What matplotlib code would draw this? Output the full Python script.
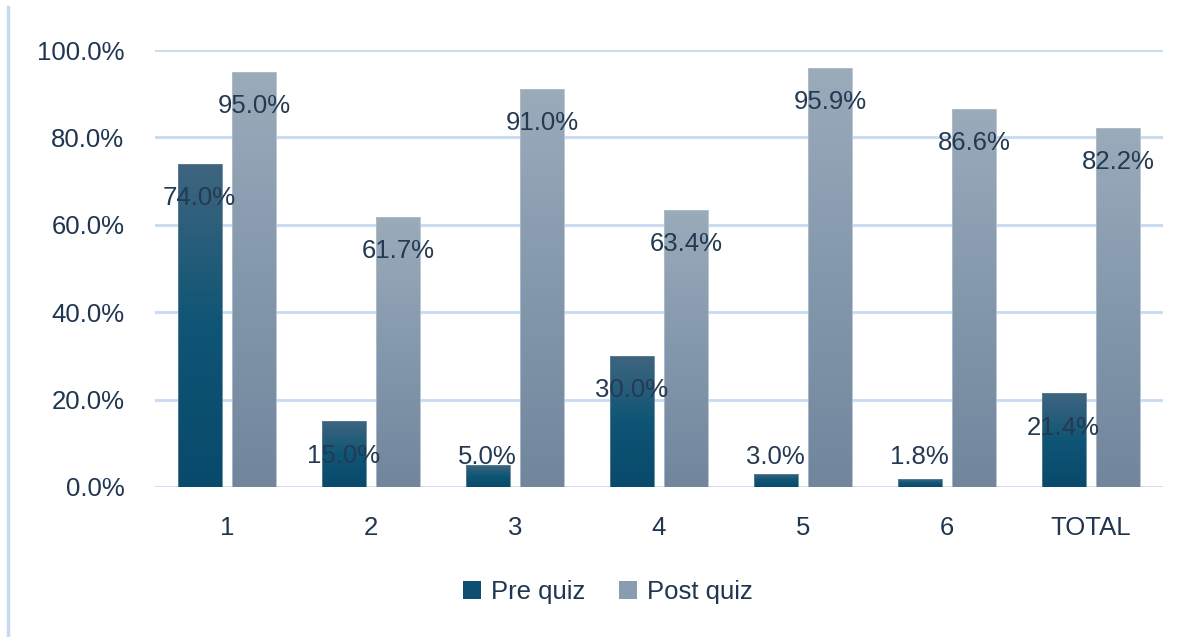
import numpy as np
import matplotlib.pyplot as plt
from matplotlib.colors import LinearSegmentedColormap
from matplotlib.lines import Line2D
from matplotlib.patches import Patch

categories = ['1', '2', '3', '4', '5', '6', 'TOTAL']
pre_quiz = [74.0, 15.0, 5.0, 30.0, 3.0, 1.8, 21.4]
post_quiz = [95.0, 61.7, 91.0, 63.4, 95.9, 86.6, 82.2]

plt.rcParams['font.family'] = ['Liberation Sans', 'DejaVu Sans']
txt_color = '#1f3550'
grid_color = '#c6dbf1'

pre_cmap = LinearSegmentedColormap.from_list('pre', ['#084a6b', '#0f5575', '#3f657f'])
post_cmap = LinearSegmentedColormap.from_list('post', ['#71869c', '#8498ad', '#9aabba'])

fig = plt.figure(figsize=(11.88, 6.37), dpi=100, facecolor='w')
ax = fig.add_axes([155 / 1188, 1 - 487 / 637, 1008 / 1188, 437 / 637])

x = np.arange(len(categories))
w = 0.305
off = 0.19
pre = np.array(pre_quiz) / 100
post = np.array(post_quiz) / 100

grad = np.linspace(0, 1, 256).reshape(-1, 1)


def gradient_bars(xs, vals, cmap, edge):
    bars = ax.bar(xs, vals, w, color='none', edgecolor=edge, linewidth=0.6, zorder=3)
    for b in bars:
        x0 = b.get_x()
        h = b.get_height()
        im = ax.imshow(grad, cmap=cmap, origin='lower', aspect='auto',
                       extent=[x0, x0 + w, 0, h], zorder=2)
        im.set_clip_path(b)
    return bars


gradient_bars(x - off, pre, pre_cmap, '#5d7f96')
gradient_bars(x + off, post, post_cmap, '#b0bfcc')

for xs, vals in [(x - off, pre_quiz), (x + off, post_quiz)]:
    for xi, v in zip(xs, vals):
        ax.text(xi, max(v - 7.8, 6.9) / 100, f'{v:.1f}%', ha='center', va='center',
                fontsize=18.5, color='#233a52', zorder=5)

ax.set_xlim(-0.5, len(categories) - 0.5)
ax.set_ylim(0, 1.0)
ax.set_yticks(np.arange(0, 1.01, 0.2))
ax.set_yticklabels([f'{t * 100:.1f}%' for t in np.arange(0, 1.01, 0.2)])
ax.set_xticks(x)
ax.set_xticklabels(categories)
ax.tick_params(axis='y', length=0, pad=22, labelsize=18.5, labelcolor=txt_color)
ax.tick_params(axis='x', length=0, pad=21, labelsize=18.5, labelcolor=txt_color)
ax.grid(axis='y', color=grid_color, linewidth=2.0, zorder=0)
ax.set_axisbelow(True)
for s in ax.spines.values():
    s.set_visible(False)

handles = [Patch(facecolor='#0d4f70', edgecolor='none'),
           Patch(facecolor='#8a9db0', edgecolor='none')]
fig.legend(handles, ['Pre quiz', 'Post quiz'], loc='center', bbox_to_anchor=(608 / 1188, 1 - 592 / 637),
           ncol=2, frameon=False, fontsize=18.5, labelcolor=txt_color,
           handlelength=0.7, handleheight=0.7, handletextpad=0.4, columnspacing=1.3)

fig.add_artist(Line2D([8 / 1188, 8 / 1188], [0, 1 - 7 / 637], transform=fig.transFigure,
                      color=grid_color, linewidth=2.5))

plt.savefig('out.png', dpi=100)
